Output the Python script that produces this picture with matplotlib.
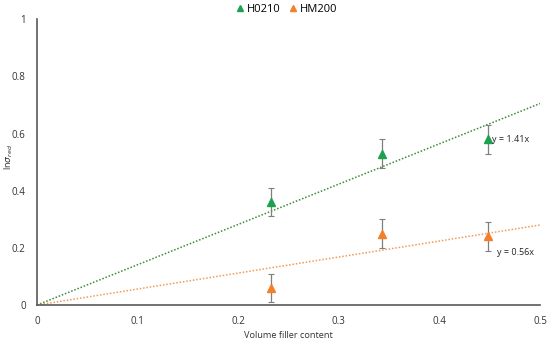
import matplotlib
matplotlib.use("Agg")
import matplotlib.pyplot as plt
import numpy as np

plt.rcParams["font.family"] = ["Open Sans", "DejaVu Sans"]

x_h0210 = [0.233, 0.343, 0.448]
y_h0210 = [0.36, 0.53, 0.58]
err_h0210 = [0.05, 0.05, 0.05]
x_hm200 = [0.233, 0.343, 0.448]
y_hm200 = [0.06, 0.25, 0.24]
err_hm200 = [0.05, 0.05, 0.05]
slope_h0210 = 1.41
slope_hm200 = 0.56
fit_x = [0.0, 0.5]

green = "#1DA14E"
orange = "#F47F2B"

fig = plt.figure(figsize=(5.5, 3.42), dpi=100)
ax = fig.add_axes([0.067, 0.108, 0.915, 0.836])

fx = np.array(fit_x)
ax.plot(fx, slope_h0210 * fx, ls=(0, (1, 1.2)), color="#3E8A3A", lw=1.1)
ax.plot(fx, slope_hm200 * fx, ls=(0, (1, 1.2)), color="#F49A55", lw=1.1)

ax.errorbar(x_h0210, y_h0210, yerr=err_h0210, fmt="none", ecolor="#7F7F7F",
            elinewidth=0.9, capsize=2, capthick=0.8)
ax.errorbar(x_hm200, y_hm200, yerr=err_hm200, fmt="none", ecolor="#7F7F7F",
            elinewidth=0.9, capsize=2, capthick=0.8)
ax.plot(x_h0210, y_h0210, "^", color=green, ms=6, ls="none", label="H0210")
ax.plot(x_hm200, y_hm200, "^", color=orange, ms=6, ls="none", label="HM200")

ax.text(0.452, 0.58, "y = 1.41x", fontsize=6.5, va="center", color="#222222")
ax.text(0.457, 0.185, "y = 0.56x", fontsize=6.5, va="center", color="#222222")

ax.set_xlim(0, 0.5)
ax.set_ylim(0, 1)
ax.set_xticks([0, 0.1, 0.2, 0.3, 0.4, 0.5])
ax.set_xticklabels(["0", "0.1", "0.2", "0.3", "0.4", "0.5"])
ax.set_yticks([0, 0.2, 0.4, 0.6, 0.8, 1])
ax.set_yticklabels(["0", "0.2", "0.4", "0.6", "0.8", "1"])
ax.tick_params(length=0, labelsize=7, colors="#333333", pad=8)
for s in ("top", "right"):
    ax.spines[s].set_visible(False)
for s in ("left", "bottom"):
    ax.spines[s].set_color("#595959")
    ax.spines[s].set_linewidth(1.2)

ax.set_xlabel("Volume filler content", fontsize=6.6, color="#333333", labelpad=3)
ax.set_ylabel(r"ln$\sigma_{red}$", fontsize=6.6, color="#333333")
ax.yaxis.set_label_coords(-0.044, 0.52)

fig.legend(loc="center", bbox_to_anchor=(0.52, 0.972), ncol=2, frameon=False,
           fontsize=8, handletextpad=0.1, columnspacing=0.6, handlelength=1,
           markerscale=0.8, borderpad=0.1)

fig.savefig("out.png", dpi=100)
